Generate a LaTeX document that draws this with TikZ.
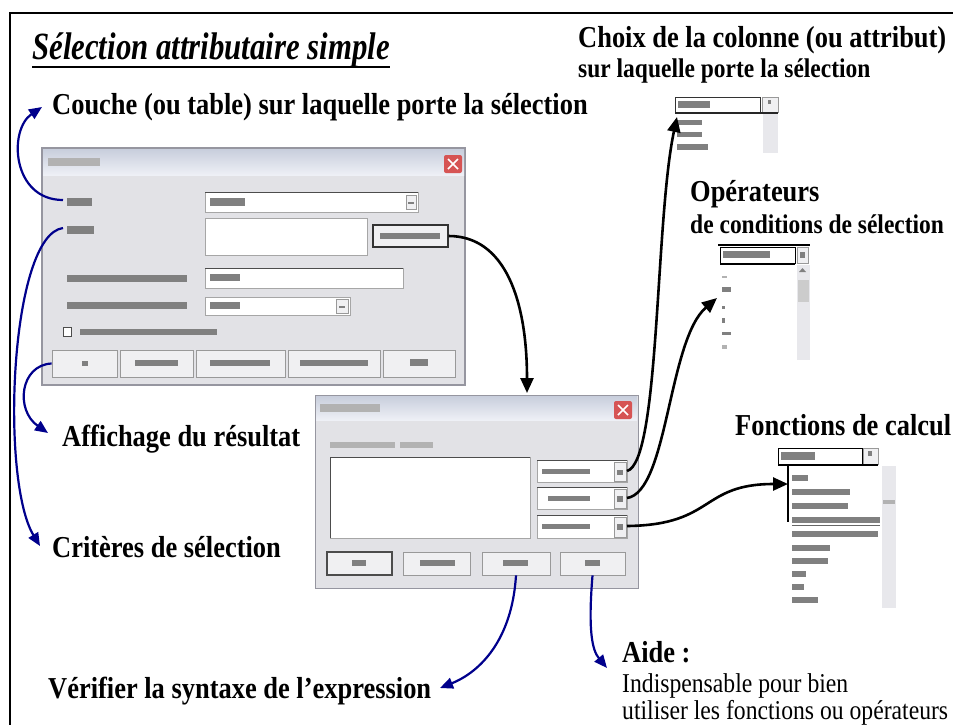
\documentclass[tikz,border=0pt]{standalone}
\usepackage{fontspec}
\setmainfont[FakeStretch=0.87]{Liberation Serif}
\newfontfamily\titlefont[FakeStretch=0.8]{Liberation Serif}
\usetikzlibrary{arrows.meta}
\definecolor{navyarrow}{RGB}{0,0,140}
\definecolor{winbg}{RGB}{226,226,230}
\definecolor{winedge}{RGB}{150,150,160}
\definecolor{titletop}{RGB}{200,206,220}
\definecolor{titlebot}{RGB}{238,240,246}
\definecolor{closered}{RGB}{214,84,84}
\definecolor{scrollgray}{RGB}{232,232,236}
\tikzset{
 big/.style={font=\fontsize{30.4}{33}\selectfont\bfseries, anchor=base west, inner sep=0pt},
 mid/.style={font=\fontsize{27}{30}\selectfont\bfseries, anchor=base west, inner sep=0pt},
 reg/.style={font=\fontsize{27.2}{30}\selectfont, anchor=base west, inner sep=0pt},
 ttl/.style={font=\titlefont\fontsize{38.5}{40}\selectfont\bfseries\itshape, anchor=base west, inner sep=0pt},
 blk/.style={line width=2.6pt, -{Triangle[length=15pt,width=13pt]}},
 blu/.style={navyarrow, line width=2.2pt, -{Triangle[length=13pt,width=11pt]}},
 win/.style={fill=winbg, draw=winedge, line width=1.2pt},
 field/.style={fill=white, draw=black!35, line width=0.8pt},
 btn/.style={fill=winbg!50!white, draw=black!40, line width=0.8pt},
 txt/.style={fill=black!50},
 ltxt/.style={fill=black!30},
}
\begin{document}
\begin{tikzpicture}[x=1pt,y=-1pt]
\useasboundingbox (0,0) rectangle (953,724);
% frame
\draw[line width=2.4pt] (10,760) -- (10,13) -- (970,13);

% ---------------- texts
\node[ttl] (title) at (32,59) {Sélection attributaire simple};
\draw[line width=2pt] (title.south west) -- (title.south east);
\node[big] (choix) at (578,47) {Choix de la colonne (ou attribut)};
\node[mid] (choix2) at (578,77) {sur laquelle porte la sélection};
\node[big] (couche) at (52,114) {Couche (ou table) sur laquelle porte la sélection};
\node[big] (oper) at (690,201) {Opérateurs};
\node[mid] (oper2) at (690,233) {de conditions de sélection};
\node[big] (fonc) at (735,435) {Fonctions de calcul};
\node[big] (affi) at (62,446) {Affichage du résultat};
\node[big] (crit) at (52,557) {Critères de sélection};
\node[big] (verif) at (48,698) {Vérifier la syntaxe de l’expression};
\node[big] (aide) at (622,662) {Aide :};
\node[reg] (aide2) at (622,692) {Indispensable pour bien};
\node[reg] (aide3) at (622,719) {utiliser les fonctions ou opérateurs};

% ---------------- dialog 1 : Sélectionner
\draw[win] (42,148) rectangle (465,385);
\shade[top color=titletop, bottom color=titlebot] (43,149) rectangle (464,175);
\fill[ltxt] (48,158) rectangle (100,166);
\fill[closered, rounded corners=2pt] (444,155) rectangle (462,173);
\draw[white, line width=1.5pt] (448,159) -- (458,169) (458,159) -- (448,169);
% table row
\fill[txt] (67,198) rectangle (92,206);
\draw[field] (205,192) rectangle (418,212);
\draw[black!70, line width=1pt] (205,192) -- (418,192);
\fill[txt] (210,198) rectangle (245,206);
\draw[btn] (406,195) rectangle (416,209);
\fill[txt] (408,202) rectangle (414,204);
% criteres row
\fill[txt] (67,226) rectangle (94,234);
\draw[field] (205,218) rectangle (367,255);
\node[draw=black!80, line width=1.2pt, fill=winbg!50!white, minimum width=75pt, minimum height=22pt, inner sep=0pt] (exprbtn) at (410.5,236) {};
\fill[txt] (380,233) rectangle (440,239);
% row 3
\fill[txt] (67,275) rectangle (187,282);
\draw[field] (205,268) rectangle (403,288);
\draw[black!70, line width=1pt] (205,268) -- (403,268);
\fill[txt] (210,274) rectangle (240,281);
% row 4
\fill[txt] (67,302) rectangle (187,309);
\draw[field] (205,297) rectangle (350,315);
\fill[txt] (210,302) rectangle (240,309);
\draw[btn] (336,299) rectangle (348,313);
\fill[txt] (339,306) rectangle (345,308);
% checkbox
\draw[black!70, fill=white] (63,327) rectangle (71,336);
\fill[txt] (80,329) rectangle (217,335);
% buttons
\node[btn, minimum width=65pt, minimum height=27pt, inner sep=0pt] (okbtn) at (84.5,363.5) {};
\fill[txt] (82,361) rectangle (88,366);
\draw[btn] (120,350) rectangle (193,377); \fill[txt] (135,360) rectangle (178,366);
\draw[btn] (196,350) rectangle (285,377); \fill[txt] (210,360) rectangle (270,366);
\draw[btn] (288,350) rectangle (380,377); \fill[txt] (300,360) rectangle (368,366);
\draw[btn] (383,350) rectangle (455,377); \fill[txt] (410,359) rectangle (428,366);

% ---------------- dialog 2 : Expression
\node[win, minimum width=323pt, minimum height=193pt, inner sep=0pt, anchor=north west] (dlg2) at (315,395) {};
\shade[top color=titletop, bottom color=titlebot] (316,396) rectangle (637,420);
\fill[ltxt] (320,404) rectangle (380,412);
\fill[closered, rounded corners=2pt] (614,401) rectangle (632,419);
\draw[white, line width=1.5pt] (618,405) -- (628,415) (628,405) -- (618,415);
\fill[ltxt] (330,442) rectangle (395,448);
\fill[ltxt] (400,442) rectangle (433,448);
\draw[field] (330,457) rectangle (530,538);
\draw[black!70, line width=1pt] (330,538) -- (330,457) -- (530,457);
% three combos
\draw[field] (537,460) rectangle (627,482); \draw[black!70] (537,460) -- (627,460);
\fill[txt] (542,469) rectangle (590,474);
\draw[btn] (614,462) rectangle (626,481); \fill[txt] (617,470) rectangle (623,475);
\draw[field] (537,487) rectangle (627,509); \draw[black!70] (537,487) -- (627,487);
\fill[txt] (548,496) rectangle (590,501);
\draw[btn] (614,489) rectangle (626,508); \fill[txt] (617,496) rectangle (623,502);
\draw[field] (537,515) rectangle (627,538); \draw[black!70] (537,515) -- (627,515);
\fill[txt] (542,524) rectangle (590,529);
\draw[btn] (614,517) rectangle (626,537); \fill[txt] (617,524) rectangle (623,530);
\coordinate (cb1) at (627,471);
\coordinate (cb2) at (627,498);
\coordinate (cb3) at (627,526);
% buttons
\draw[btn, draw=black!70, line width=1.2pt] (327,552) rectangle (392,575); \fill[txt] (352,560) rectangle (366,566);
\draw[btn] (403,552) rectangle (470,575); \fill[txt] (420,560) rectangle (455,566);
\node[btn, minimum width=68pt, minimum height=23pt, inner sep=0pt] (verbtn) at (516,563.5) {};
\fill[txt] (503,560) rectangle (528,566);
\node[btn, minimum width=65pt, minimum height=23pt, inner sep=0pt] (aidebtn) at (592.5,563.5) {};
\fill[txt] (585,560) rectangle (600,566);

% ---------------- list 1 : colonnes
\node[fill=white, minimum width=103pt, minimum height=56pt, inner sep=0pt, anchor=north west] (list1) at (675,97) {};
\draw[black!80, line width=1pt] (675,97) rectangle (760,112);
\fill[txt] (678,101) rectangle (710,108);
\draw[btn] (762,97) rectangle (778,112); \fill[txt] (768,100) rectangle (771,104);
\draw[black!85, line width=1.5pt] (675,113) -- (778,113);
\fill[scrollgray] (763,114) rectangle (778,153);
\fill[txt] (677,120) rectangle (702,125);
\fill[txt] (677,132) rectangle (702,137);
\fill[txt] (677,144) rectangle (708,150);

% ---------------- list 2 : operateurs
\node[fill=white, minimum width=90pt, minimum height=115pt, inner sep=0pt, anchor=north west] (list2) at (720,245) {};
\draw[black, line width=2pt] (718,245) -- (810,245);
\draw[black, line width=1pt] (720,247) rectangle (795,263);
\fill[txt] (723,251) rectangle (770,258);
\draw[btn] (797,247) rectangle (808,263); \fill[txt] (800,252) rectangle (805,258);
\draw[black, line width=1.2pt] (720,264) -- (795,264);
\fill[scrollgray] (797,265) rectangle (810,360);
\fill[black!50] (799,272) -- (806,272) -- (802.5,268) -- cycle;
\fill[black!20] (798,280) rectangle (809,302);
\fill[ltxt] (722,276) rectangle (727,278);
\fill[txt] (722,287) rectangle (731,292);
\fill[txt] (722,306) rectangle (725,309);
\fill[txt] (722,318) rectangle (725,323);
\fill[txt] (722,332) rectangle (731,335);
\fill[ltxt] (722,345) rectangle (727,349);

% ---------------- list 3 : fonctions
\node[fill=white, minimum width=118pt, minimum height=160pt, inner sep=0pt, anchor=north west] (list3) at (778,448) {};
\draw[black, line width=1pt] (778,448) rectangle (862,464);
\fill[txt] (781,452) rectangle (815,460);
\draw[btn] (863,448) rectangle (878,464); \fill[txt] (868,451) rectangle (872,456);
\draw[black, line width=1.5pt] (778,465) -- (878,465);
\draw[black, line width=2.5pt] (788,465) -- (788,522);
\fill[scrollgray] (882,466) rectangle (896,608);
\fill[black!30] (883,500) rectangle (895,504);
\fill[txt] (792,475) rectangle (808,481);
\fill[txt] (792,489) rectangle (850,495);
\fill[txt] (792,503) rectangle (848,509);
\fill[txt] (792,517) rectangle (880,523);
\draw[black!60] (792,525) -- (880,525);
\fill[txt] (792,531) rectangle (878,537);
\fill[txt] (792,545) rectangle (830,551);
\fill[txt] (792,558) rectangle (828,564);
\fill[txt] (792,571) rectangle (806,577);
\fill[txt] (792,584) rectangle (804,590);
\fill[txt] (792,597) rectangle (818,603);

% ---------------- arrows
\coordinate (tipCouche) at (42,107);
\coordinate (tipAffi) at (48,433);
\coordinate (tipCrit) at (40,546);
\coordinate (tipVerif) at (440,688);
\coordinate (tipAide) at (607,668);
\coordinate (tipL1) at (677,117);
\coordinate (tipL2) at (717,298);
\coordinate (tipL3) at (788,484);
\coordinate (tipDlg) at (527,393);
\coordinate (tableLbl) at (63,200);
\coordinate (critLbl) at (63,228);

\draw[blk] (exprbtn.east) .. controls (505,236) and (527,300) .. (tipDlg);
\draw[blk] (cb1) .. controls (660,462) and (655,220) .. (tipL1);
\draw[blk] (cb2) .. controls (668,492) and (668,340) .. (tipL2);
\draw[blk] (cb3) .. controls (715,525) and (700,484) .. (tipL3);

\draw[blu] (tableLbl) .. controls (12,200) and (8,130) .. (tipCouche);
\draw[blu] (critLbl) .. controls (10,235) and (0,480) .. (tipCrit);
\draw[blu] (okbtn.west) .. controls (20,365) and (15,410) .. (tipAffi);
\draw[blu] (verbtn.south) .. controls (512,640) and (480,672) .. (tipVerif);
\draw[blu] (aidebtn.south) .. controls (588,630) and (592,650) .. (tipAide);
\end{tikzpicture}
\end{document}
